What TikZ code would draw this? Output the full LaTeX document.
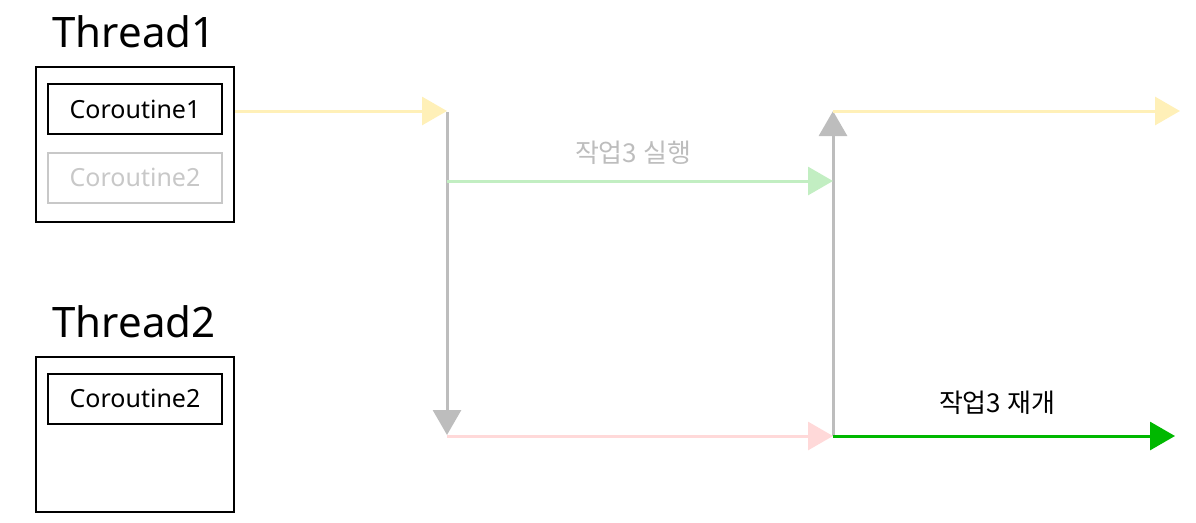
\documentclass[tikz,border=0pt]{standalone}
\usepackage{fontspec}
\setmainfont{Noto Sans}
\newfontfamily\kr{Noto Sans CJK KR}
\usetikzlibrary{arrows.meta}
\definecolor{cyel}{HTML}{FFF0B8}
\definecolor{cgray}{HTML}{BDBDBD}
\definecolor{cgreenl}{HTML}{C2EEC2}
\definecolor{cpink}{HTML}{FFD9D9}
\definecolor{cgreen}{HTML}{00B800}
\definecolor{cboxgray}{HTML}{C8C8C8}
\tikzset{
  x=1pt, y=-1pt,
  title/.style={font=\fontsize{42}{48}\selectfont, anchor=base},
  threadbox/.style={draw=black, line width=2pt, minimum width=198pt, minimum height=155pt, inner sep=0pt},
  cobox/.style={draw=black, line width=2pt, minimum width=174pt, minimum height=50pt, inner sep=0pt, font=\fontsize{25}{28}\selectfont},
  cogray/.style={cobox, draw=cboxgray, text=cboxgray},
  flow/.style={line width=3pt, -{Triangle[length=25pt,width=28pt]}},
  lbl/.style={font=\kr\fontsize{26}{30}\selectfont, anchor=base}
}
\begin{document}
\begin{tikzpicture}
\useasboundingbox (0,0) rectangle (1196,522);
\node[title] (t1) at (134,47) {Thread1};
\node[threadbox] (th1) at (135,144) {};
\node[cobox] (c1) at (135,109) {Coroutine1};
\node[cogray] (c2g) at (135,177.5) {Coroutine2};
\node[title] (t2) at (134,337) {Thread2};
\node[threadbox] (th2) at (135,434.5) {};
\node[cobox] (c2) at (135,398.5) {Coroutine2};

\coordinate (a1) at (447,111);
\coordinate (a0) at (447,112);
\coordinate (a2) at (447,435);
\coordinate (g1) at (447,181);
\coordinate (g2) at (833,181);
\coordinate (b1) at (833,436);
\coordinate (b2) at (833,111);
\coordinate (e1) at (1180,111);
\coordinate (e2) at (1175,436);
\coordinate (p1) at (447,436);

\draw[flow, cgray] (a0) -- (a2);
\draw[flow, cgray] (b1) -- (b2);
\draw[flow, cyel] (th1.east |- a1) -- (a1);
\draw[flow, cgreenl] (g1) -- (g2);
\draw[flow, cpink] (p1) -- (b1);
\draw[flow, cyel] (b2) -- (e1);
\draw[flow, cgreen] (b1) -- (e2);

\node[lbl, text=cgray] (l1) at (633,162) {작업3 실행};
\node[lbl, text=black] (l2) at (997,412) {작업3 재개};
\end{tikzpicture}
\end{document}
